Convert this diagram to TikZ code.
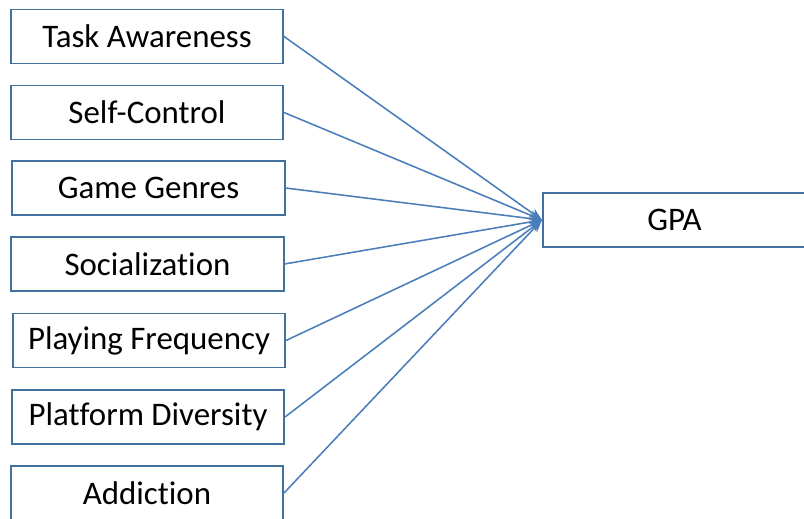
\documentclass[tikz,border=0pt]{standalone}
\usepackage{fontspec}
\setmainfont[Ligatures=NoCommon]{Carlito}
\usepackage{tikz}
\usetikzlibrary{arrows.meta}
\definecolor{boxline}{HTML}{41719C}
\definecolor{arrowline}{HTML}{4A7EBB}
\tikzset{
  factor/.style={draw=boxline, line width=1.4pt, minimum width=6.8cm,
    minimum height=1.35cm, inner sep=0pt, font=\fontsize{23.4}{28}\selectfont},
  link/.style={draw=arrowline, line width=1.1pt, -{Stealth[length=9pt,width=7pt]}}
}
\begin{document}
\begin{tikzpicture}[x=0.025cm,y=-0.025cm]
\useasboundingbox (0,0) rectangle (804,519);
\node[factor] (task) at (147,36.5) {Task Awareness};
\node[factor] (self) at (147,112.5) {Self-Control};
\node[factor] (genre) at (148.5,188) {Game Genres};
\node[factor] (social) at (147.5,264) {Socialization};
\node[factor] (freq) at (149,340.5) {Playing Frequency};
\node[factor] (platform) at (148,417) {Platform Diversity};
\node[factor] (addict) at (147,493) {Addiction};
\node[factor, minimum width=6.575cm] (gpa) at (674.5,220) {GPA};
% all factors point at GPA
\foreach \n in {task,self,genre,social,freq,platform,addict}
  \draw[link] (\n.east) -- (gpa.west);
\end{tikzpicture}
\end{document}
